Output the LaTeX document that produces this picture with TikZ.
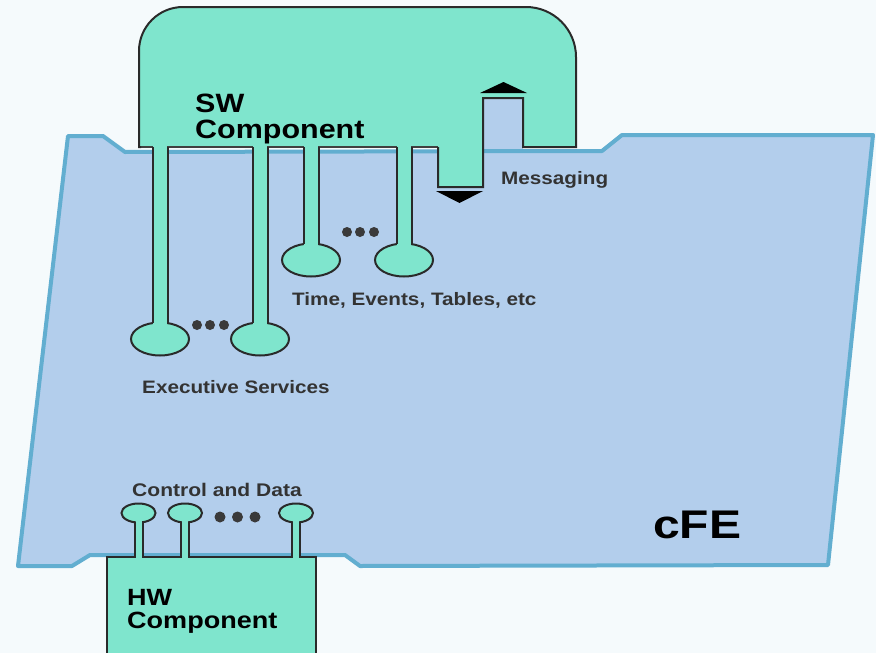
\documentclass[tikz,border=0pt]{standalone}
\usepackage{fontspec}
\setmainfont{Liberation Sans}
\usepackage{graphicx}
\usetikzlibrary{shapes.geometric}
\definecolor{mint}{HTML}{7FE5CD}
\definecolor{cfefill}{HTML}{B3CEEC}
\definecolor{cfeline}{HTML}{62AED0}
\definecolor{bgc}{HTML}{F5FAFC}
\definecolor{lbl}{HTML}{333333}
\definecolor{dotc}{HTML}{3A3A3A}
\definecolor{outc}{HTML}{2A2A2A}
\newcommand{\sx}[1]{\scalebox{1.15}[1]{#1}}
\begin{document}
\begin{tikzpicture}[x=1pt,y=-1pt,
  outl/.style={draw=outc,line width=2pt,line join=miter},
  oval/.style={ellipse,draw=outc,fill=mint,line width=2pt,inner sep=0pt},
  lab/.style={anchor=base west,inner sep=0pt,text=lbl,font=\bfseries\fontsize{18}{20}\selectfont},
  big/.style={anchor=base west,inner sep=0pt,text=black,font=\bfseries\fontsize{26.5}{28}\selectfont},
  dot/.style={fill=dotc}]
\useasboundingbox (0,0) rectangle (876,653);
\fill[bgc] (0,0) rectangle (876,653);
% cFE
\filldraw[fill=cfefill,draw=cfeline,line width=4pt,line join=round]
  (68,136) -- (103,136) -- (125,152) -- (602,151) -- (622,135) -- (873,135)
  -- (828,565) -- (360,566) -- (345,555) -- (90,555) -- (72,566) -- (18,566) -- cycle;
\fill[cfefill] (483,98) rectangle (523,149);
% SW component body
\fill[mint] (139,147) -- (139,51) arc[start angle=180,end angle=270,radius=44]
  -- (526,7) arc[start angle=270,end angle=360,radius=50] -- (576,147)
  -- (523,147) -- (523,98) -- (483,98) -- (483,187) -- (438,187) -- (438,147) -- cycle;
\draw[draw=black!75,line width=1.2pt] (139,147) -- (438,147);
\draw[outl] (438,147) -- (438,187) -- (483,187) -- (483,98) -- (523,98) -- (523,147) -- (576,147)
  -- (576,57) arc[start angle=360,end angle=270,radius=50] -- (183,7)
  arc[start angle=270,end angle=180,radius=44] -- (139,147) -- (141,147);
% service ovals and pipes
\foreach \n/\xc/\yc in {es1/160/339, es2/260/339, te1/311/260, te2/404/260}{
  \node[oval,minimum width=58pt,minimum height=33pt] (\n) at (\xc,\yc) {};
  \fill[mint] (\xc-6.6,140) rectangle (\xc+6.6,\yc-10);
  \draw[outl] (\xc-7.5,147) -- (\xc-7.5,\yc-15.9);
  \draw[outl] (\xc+7.5,147) -- (\xc+7.5,\yc-15.9);
}
% HW component
\draw[outl,fill=mint] (107,665) -- (107,557) -- (316,557) -- (316,665);
\foreach \n/\xc in {cd1/138.5, cd2/185, cd3/296}{
  \node[oval,minimum width=34pt,minimum height=19pt] (\n) at (\xc,513) {};
  \fill[mint] (\xc-3,518) rectangle (\xc+3,559);
  \draw[outl] (\xc-4,522.2) -- (\xc-4,557);
  \draw[outl] (\xc+4,522.2) -- (\xc+4,557);
}
% dots
\foreach \x in {197,210,224} \fill[dot] (\x,325) circle[radius=5];
\foreach \x in {347,360,374} \fill[dot] (\x,232) circle[radius=5];
\foreach \x in {220,237.5,255} \fill[dot] (\x,517) circle[radius=5.5];
% messaging arrows
\fill[black] (480,93) -- (503.5,82) -- (527,93) -- cycle;
\fill[black] (436,191) -- (483,191) -- (459.5,203) -- cycle;
% texts
\node[big] (sw1) at (195,112) {\sx{SW}};
\node[big] (sw2) at (195,138) {\sx{Component}};
\node[big,font=\bfseries\fontsize{23.5}{25}\selectfont] (hw1) at (127,605) {\sx{HW}};
\node[big,font=\bfseries\fontsize{23.5}{25}\selectfont] (hw2) at (127,628) {\sx{Component}};
\node[big,font=\bfseries\fontsize{40}{42}\selectfont] (cfe) at (653,538) {\scalebox{1.2}[1]{cFE}};
\node[lab] (msg) at (501,184) {\sx{Messaging}};
\node[lab] (tet) at (292,305) {\sx{Time, Events, Tables, etc}};
\node[lab] (exs) at (142,393) {\sx{Executive Services}};
\node[lab,font=\bfseries\fontsize{18.3}{20}\selectfont] (cad) at (132,496) {\sx{Control and Data}};
\end{tikzpicture}
\end{document}
